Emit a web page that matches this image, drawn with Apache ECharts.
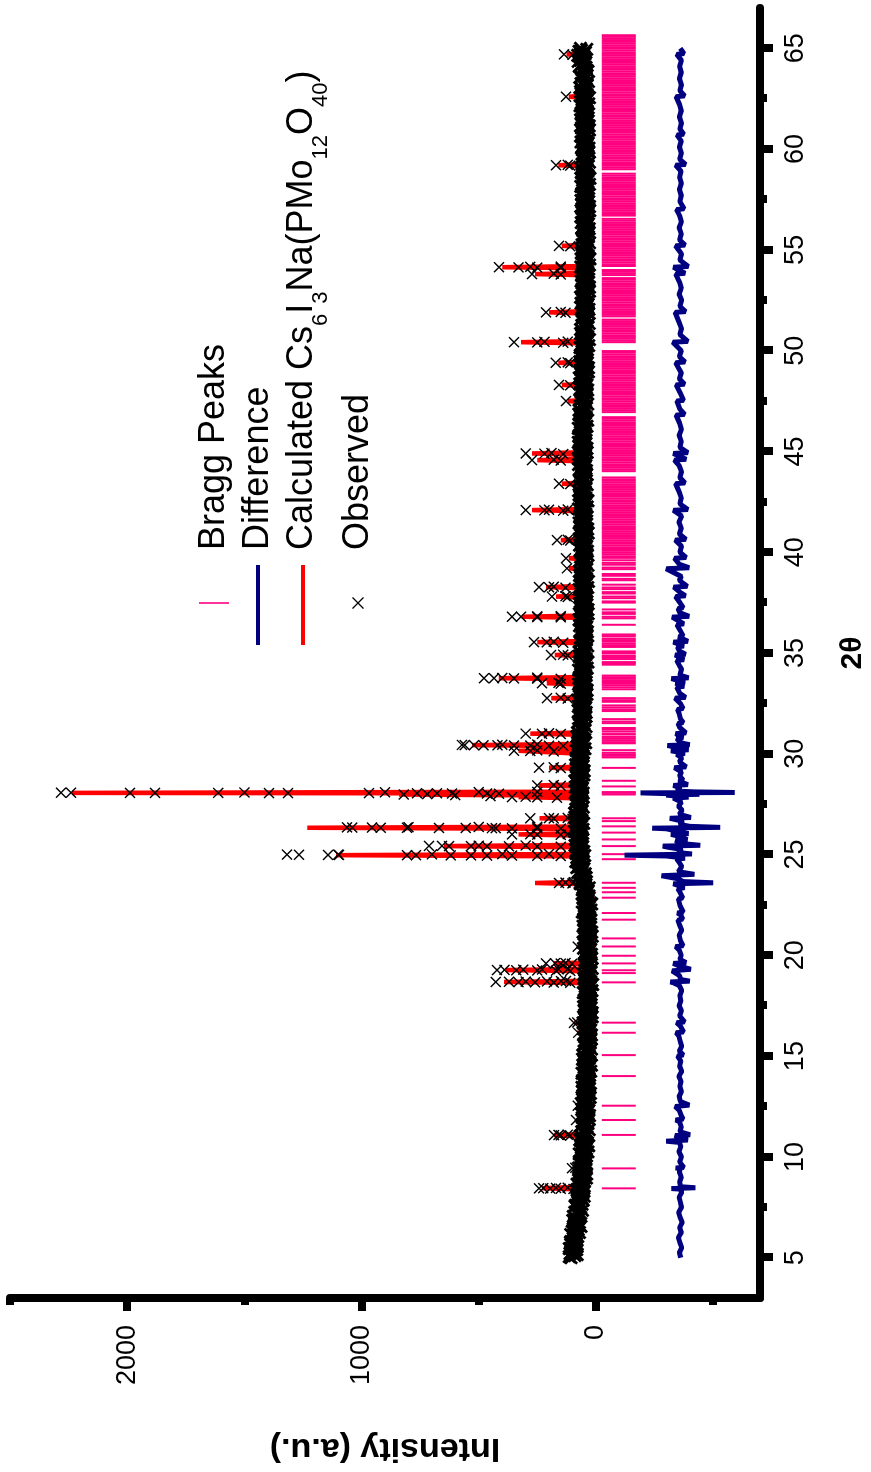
<!DOCTYPE html>
<html>
<head>
<meta charset="utf-8">
<title>Rietveld refinement</title>
<script src="https://cdn.jsdelivr.net/npm/echarts@6.0.0/dist/echarts.min.js"></script>
<style>
  html, body { margin: 0; padding: 0; background: #fff; overflow: hidden; }
  #page { position: relative; width: 871px; height: 1472px; }
  /* the figure is drawn landscape and turned a quarter turn to the left */
  #chart { position: absolute; left: 0; top: 0; width: 1472px; height: 871px;
           transform-origin: 0 0; transform: translate(0, 1472px) rotate(-90deg); }
</style>
</head>
<body>
<div id="page"><div id="chart"></div></div>
<script>
// observed scan, read in two interleaved passes:
// obsBase at 5.0, 5.1 ... 65.0 and obsMid at 5.05, 5.15 ... 64.95
const obsStart = 5.0;
const obsMidStart = 5.05;
const obsStep = 0.1;
const obsBase = [
  106, 90, 111, 93, 82, 104, 96, 82, 107, 85,
  83, 100, 86, 101, 76, 89, 68, 90, 78, 90,
  91, 73, 65, 83, 76, 65, 87, 66, 76, 57,
  63, 80, 56, 51, 73, 65, 55, 72, 49, 65,
  64, 48, 70, 52, 42, 64, 56, 43, 68, 47,
  45, 63, 49, 65, 40, 54, 35, 57, 46, 59,
  60, 43, 36, 54, 48, 38, 60, 40, 51, 32,
  42, 60, 36, 31, 54, 46, 37, 55, 31, 48,
  47, 32, 54, 37, 27, 50, 43, 30, 56, 35,
  32, 50, 37, 53, 29, 43, 24, 47, 36, 49,
  49, 32, 25, 44, 38, 28, 51, 31, 42, 24,
  32, 50, 27, 22, 45, 38, 29, 47, 24, 41,
  40, 25, 47, 30, 20, 43, 36, 23, 49, 28,
  27, 45, 32, 48, 24, 38, 19, 42, 31, 44,
  46, 29, 22, 41, 35, 25, 48, 28, 39, 21,
  32, 50, 27, 22, 45, 38, 29, 47, 24, 41,
  42, 27, 49, 32, 22, 45, 38, 25, 51, 30,
  31, 49, 36, 52, 28, 42, 23, 46, 35, 48,
  54, 38, 33, 54, 50, 42, 67, 49, 62, 46,
  59, 78, 56, 51, 75, 68, 60, 78, 56, 73,
  76, 61, 83, 66, 56, 79, 72, 59, 85, 64,
  65, 83, 70, 86, 62, 76, 57, 80, 69, 82,
  84, 67, 60, 79, 73, 63, 86, 66, 77, 59,
  67, 85, 62, 57, 80, 73, 64, 82, 59, 76,
  74, 59, 81, 64, 54, 77, 70, 57, 83, 62,
  57, 75, 62, 78, 54, 68, 49, 72, 61, 74,
  72, 55, 48, 67, 61, 51, 74, 54, 65, 47,
  54, 72, 49, 44, 67, 60, 51, 69, 46, 63,
  61, 46, 68, 51, 41, 64, 57, 44, 70, 49,
  47, 65, 52, 68, 44, 58, 39, 62, 51, 64,
  65, 48, 41, 60, 54, 44, 67, 47, 58, 40,
  49, 67, 44, 39, 62, 55, 46, 64, 41, 58,
  58, 43, 65, 48, 38, 61, 54, 41, 67, 46,
  45, 63, 50, 66, 42, 56, 37, 60, 49, 62,
  64, 47, 40, 59, 53, 43, 66, 46, 57, 39,
  49, 67, 44, 39, 62, 55, 46, 64, 41, 58,
  59, 44, 66, 49, 39, 62, 55, 42, 68, 47,
  47, 65, 52, 68, 44, 58, 39, 62, 51, 64,
  67, 50, 43, 62, 56, 46, 69, 49, 60, 42,
  53, 71, 48, 43, 66, 59, 50, 68, 45, 62,
  62, 47, 69, 52, 42, 65, 58, 45, 71, 50,
  48, 66, 53, 69, 45, 59, 40, 63, 52, 65,
  65, 48, 41, 60, 54, 44, 67, 47, 58, 40,
  48, 66, 43, 38, 61, 54, 45, 63, 40, 57,
  56, 41, 63, 46, 36, 59, 52, 39, 65, 44,
  41, 59, 46, 62, 38, 52, 33, 56, 45, 58,
  59, 42, 35, 54, 48, 38, 61, 41, 52, 34,
  43, 61, 38, 33, 56, 49, 40, 58, 35, 52,
  51, 36, 58, 41, 31, 54, 47, 34, 60, 39,
  38, 56, 43, 59, 35, 49, 30, 53, 42, 55,
  57, 40, 33, 52, 46, 36, 59, 39, 50, 32,
  42, 60, 37, 32, 55, 48, 39, 57, 34, 51,
  51, 36, 58, 41, 31, 54, 47, 34, 60, 39,
  38, 56, 43, 59, 35, 49, 30, 53, 42, 55,
  58, 41, 34, 53, 47, 37, 60, 40, 51, 33,
  43, 61, 38, 33, 56, 49, 40, 58, 35, 52,
  53, 38, 60, 43, 33, 56, 49, 36, 62, 41,
  41, 59, 46, 62, 38, 52, 33, 56, 45, 58,
  62, 45, 38, 57, 51, 41, 64, 44, 55, 37,
  53, 71, 48, 43, 66, 59, 50, 68, 45, 62,
  66
];
const obsMid = [
  114, 80, 105, 91, 114, 80, 96, 109, 81, 96,
  78, 108, 70, 91, 97, 64, 92, 78, 99, 72,
  97, 70, 90, 57, 72, 89, 59, 78, 54, 81,
  50, 75, 58, 81, 51, 66, 81, 51, 74, 40,
  72, 39, 64, 51, 74, 41, 57, 71, 43, 59,
  40, 71, 34, 56, 63, 31, 60, 47, 69, 43,
  66, 40, 61, 29, 45, 63, 34, 54, 31, 58,
  27, 53, 37, 61, 31, 47, 63, 34, 57, 24,
  56, 23, 49, 36, 60, 27, 44, 58, 31, 47,
  28, 59, 22, 44, 51, 19, 48, 35, 57, 31,
  56, 30, 51, 19, 35, 53, 24, 44, 21, 48,
  19, 45, 29, 53, 23, 39, 55, 26, 49, 16,
  49, 16, 42, 29, 53, 20, 37, 51, 24, 40,
  23, 54, 17, 39, 46, 14, 43, 30, 52, 26,
  53, 27, 48, 16, 32, 50, 21, 41, 18, 45,
  19, 45, 29, 53, 23, 39, 55, 26, 49, 16,
  51, 18, 44, 31, 55, 22, 39, 53, 26, 42,
  27, 58, 21, 43, 50, 18, 47, 34, 56, 30,
  59, 35, 58, 29, 47, 67, 40, 62, 41, 71,
  46, 73, 58, 82, 53, 69, 86, 57, 81, 48,
  85, 52, 78, 65, 89, 56, 73, 87, 60, 76,
  61, 92, 55, 77, 84, 52, 81, 68, 90, 64,
  91, 65, 86, 54, 70, 88, 59, 79, 56, 83,
  54, 80, 64, 88, 58, 74, 90, 61, 84, 51,
  83, 50, 76, 63, 87, 54, 71, 85, 58, 74,
  53, 84, 47, 69, 76, 44, 73, 60, 82, 56,
  79, 53, 74, 42, 58, 76, 47, 67, 44, 71,
  41, 67, 51, 75, 45, 61, 77, 48, 71, 38,
  70, 37, 63, 50, 74, 41, 58, 72, 45, 61,
  43, 74, 37, 59, 66, 34, 63, 50, 72, 46,
  72, 46, 67, 35, 51, 69, 40, 60, 37, 64,
  36, 62, 46, 70, 40, 56, 72, 43, 66, 33,
  67, 34, 60, 47, 71, 38, 55, 69, 42, 58,
  41, 72, 35, 57, 64, 32, 61, 48, 70, 44,
  71, 45, 66, 34, 50, 68, 39, 59, 36, 63,
  36, 62, 46, 70, 40, 56, 72, 43, 66, 33,
  68, 35, 61, 48, 72, 39, 56, 70, 43, 59,
  43, 74, 37, 59, 66, 34, 63, 50, 72, 46,
  74, 48, 69, 37, 53, 71, 42, 62, 39, 66,
  40, 66, 50, 74, 44, 60, 76, 47, 70, 37,
  71, 38, 64, 51, 75, 42, 59, 73, 46, 62,
  44, 75, 38, 60, 67, 35, 64, 51, 73, 47,
  72, 46, 67, 35, 51, 69, 40, 60, 37, 64,
  35, 61, 45, 69, 39, 55, 71, 42, 65, 32,
  65, 32, 58, 45, 69, 36, 53, 67, 40, 56,
  37, 68, 31, 53, 60, 28, 57, 44, 66, 40,
  66, 40, 61, 29, 45, 63, 34, 54, 31, 58,
  30, 56, 40, 64, 34, 50, 66, 37, 60, 27,
  60, 27, 53, 40, 64, 31, 48, 62, 35, 51,
  34, 65, 28, 50, 57, 25, 54, 41, 63, 37,
  64, 38, 59, 27, 43, 61, 32, 52, 29, 56,
  29, 55, 39, 63, 33, 49, 65, 36, 59, 26,
  60, 27, 53, 40, 64, 31, 48, 62, 35, 51,
  34, 65, 28, 50, 57, 25, 54, 41, 63, 37,
  65, 39, 60, 28, 44, 62, 33, 53, 30, 57,
  30, 56, 40, 64, 34, 50, 66, 37, 60, 27,
  62, 29, 55, 42, 66, 33, 50, 64, 37, 53,
  37, 68, 31, 53, 60, 28, 57, 44, 66, 40,
  69, 43, 64, 32, 48, 66, 37, 57, 34, 61,
  42, 68, 52, 76, 46, 62, 78, 49, 72, 39
];

// observed counts on the flanks and tops of the reflections [2theta, I]
const obsPeaks = [
  [8.41, 96], [8.42, 150], [8.43, 195], [8.44, 243], [8.45, 225], [8.46, 170], [8.47, 120],
  [9.44, 102], [9.46, 88],
  [11.06, 110], [11.07, 150], [11.08, 179], [11.09, 160], [11.1, 120],
  [11.83, 85], [12.54, 78], [16.16, 76], [16.65, 94], [16.67, 80],
  [18.64, 110], [18.65, 180], [18.66, 260], [18.67, 330], [18.68, 427], [18.69, 371], [18.7, 299], [18.71, 209], [18.72, 149], [18.73, 128],
  [19.23, 110], [19.24, 170], [19.25, 250], [19.26, 340], [19.27, 422], [19.28, 390], [19.29, 310], [19.3, 230], [19.31, 160], [19.32, 120],
  [19.58, 102], [19.59, 150], [19.6, 213], [19.61, 175], [19.62, 130],
  [20.43, 78],
  [23.57, 100], [23.59, 158], [23.61, 130], [23.63, 95],
  [24.93, 150], [24.94, 250], [24.95, 358], [24.95, 465], [24.96, 533], [24.96, 619], [24.97, 768], [24.97, 806], [24.98, 1096], [24.98, 1143], [24.99, 1267], [25.0, 1318], [25.0, 1100], [25.01, 700], [25.02, 400], [25.03, 200],
  [25.39, 150], [25.4, 250], [25.41, 371], [25.41, 465], [25.42, 533], [25.42, 627], [25.43, 657], [25.43, 712], [25.44, 500], [25.45, 300],
  [25.98, 150], [25.99, 250], [26.0, 358], [26.01, 280], [26.02, 120],
  [26.29, 150], [26.3, 250], [26.3, 358], [26.31, 427], [26.31, 444], [26.32, 555], [26.32, 670], [26.33, 806], [26.33, 918], [26.34, 955], [26.34, 1040], [26.35, 1062], [26.36, 800], [26.37, 500], [26.38, 250],
  [26.78, 100], [26.79, 180], [26.8, 280], [26.81, 200], [26.82, 120],
  [27.82, 166], [27.84, 250], [27.85, 358], [27.87, 300], [27.9, 450], [27.95, 600], [27.98, 820], [28.0, 720],
  [28.02, 414], [28.03, 465], [28.03, 614], [28.04, 678], [28.04, 763], [28.05, 968], [28.05, 1314], [28.05, 1395], [28.06, 1612], [28.06, 1881], [28.06, 1988], [28.07, 2240], [28.07, 2282], [28.08, 1500], [28.09, 900], [28.1, 500], [28.11, 250],
  [28.41, 150], [28.43, 250], [28.45, 180],
  [29.29, 150], [29.31, 243], [29.33, 180],
  [30.12, 180], [30.14, 280], [30.15, 350], [30.17, 250],
  [30.39, 140], [30.4, 200], [30.41, 280], [30.41, 350], [30.42, 420], [30.42, 480], [30.43, 520], [30.43, 560], [30.44, 572], [30.45, 400], [30.46, 250],
  [30.98, 150], [30.99, 230], [31.0, 300], [31.02, 200],
  [32.74, 120], [32.76, 209], [32.78, 150],
  [33.48, 150], [33.5, 230], [33.52, 160],
  [33.72, 150], [33.73, 250], [33.74, 350], [33.75, 435], [33.75, 478], [33.76, 400], [33.78, 250],
  [34.88, 120], [34.9, 192], [34.92, 140],
  [35.51, 140], [35.53, 210], [35.54, 264], [35.56, 180],
  [36.77, 150], [36.78, 250], [36.8, 320], [36.8, 358], [36.82, 250], [36.83, 150],
  [37.78, 120], [37.8, 188], [37.82, 130],
  [38.24, 130], [38.26, 200], [38.27, 243], [38.29, 180],
  [39.2, 124], [39.7, 128],
  [40.58, 110], [40.6, 166], [40.62, 120],
  [42.06, 140], [42.08, 220], [42.09, 299], [42.11, 200], [42.12, 120],
  [43.38, 110], [43.4, 158],
  [44.55, 150], [44.57, 273], [44.59, 180],
  [44.87, 140], [44.89, 220], [44.9, 299], [44.92, 190],
  [47.5, 128], [48.28, 110], [48.3, 158],
  [49.38, 110], [49.4, 171], [49.42, 120],
  [50.39, 140], [50.41, 250], [50.42, 350], [50.44, 220], [50.45, 120],
  [51.88, 130], [51.9, 213], [51.92, 150],
  [53.78, 150], [53.8, 273], [53.82, 180],
  [54.11, 150], [54.12, 250], [54.13, 330], [54.14, 414], [54.16, 280], [54.17, 150],
  [55.18, 110], [55.2, 158],
  [59.18, 110], [59.2, 170], [59.22, 120],
  [62.6, 128], [64.68, 100], [64.7, 136]
];

// calculated profile [2theta, I]
const calculated = [
  [5, 100], [6, 90], [7, 79], [8, 66], [8.38, 62], [8.45, 230], [8.52, 61], [9, 58], [9.4, 56], [9.45, 95], [9.5, 55],
  [10, 52], [11, 48], [11.02, 48], [11.08, 180], [11.14, 47], [11.78, 45], [11.83, 80], [11.88, 45],
  [12.49, 44], [12.54, 80], [12.59, 44], [13, 41], [14, 39], [15, 37], [16.1, 35], [16.16, 80], [16.22, 35],
  [16.6, 35], [16.66, 92], [16.72, 35], [17, 34], [18, 34], [18.62, 34], [18.68, 392], [18.74, 34],
  [19.21, 34], [19.27, 384], [19.33, 34], [19.55, 34], [19.6, 180], [19.65, 34], [20, 35],
  [20.38, 35], [20.43, 81], [20.48, 35], [21, 36], [22, 38], [23, 42], [23.53, 55], [23.59, 260], [23.65, 58],
  [24, 62], [24.91, 70], [24.97, 1109], [25.03, 70], [25.36, 70], [25.42, 648], [25.48, 70],
  [25.94, 72], [26.0, 330], [26.06, 72], [26.27, 72], [26.33, 1232], [26.39, 72],
  [26.74, 72], [26.8, 240], [26.86, 72], [27, 72], [27.79, 71], [27.85, 330], [27.92, 71],
  [27.98, 840], [28.03, 71], [28.06, 2235], [28.12, 71], [28.37, 70], [28.43, 243], [28.49, 70],
  [29, 68], [29.25, 67], [29.31, 200], [29.37, 67], [30, 64], [30.09, 64], [30.15, 330], [30.21, 64],
  [30.37, 63], [30.43, 529], [30.49, 63], [30.94, 60], [31.0, 280], [31.06, 60], [32, 57],
  [32.7, 56], [32.76, 190], [32.82, 56], [33, 55], [33.44, 55], [33.5, 210], [33.56, 55],
  [33.69, 55], [33.75, 414], [33.81, 55], [34.84, 53], [34.9, 175], [34.96, 53],
  [35.48, 53], [35.54, 250], [35.6, 53], [36, 52], [36.74, 52], [36.8, 316], [36.86, 52],
  [37.74, 52], [37.8, 170], [37.86, 52], [38.21, 52], [38.27, 213], [38.33, 52],
  [39.14, 52], [39.2, 115], [39.26, 52], [39.64, 52], [39.7, 115], [39.76, 52], [40, 52],
  [40.54, 52], [40.6, 150], [40.66, 52], [41, 53], [42.03, 54], [42.09, 273], [42.15, 54],
  [43, 55], [43.34, 55], [43.4, 145], [43.46, 55], [44, 56], [44.51, 56], [44.57, 250], [44.63, 56],
  [44.84, 56], [44.9, 273], [44.96, 56], [46, 55], [47, 53], [47.44, 53], [47.5, 120], [47.56, 53],
  [48, 51], [48.24, 51], [48.3, 145], [48.36, 51], [49, 50], [49.34, 50], [49.4, 160], [49.46, 50],
  [50, 48], [50.36, 48], [50.42, 320], [50.48, 48], [51, 47], [51.84, 46], [51.9, 200], [51.96, 46],
  [53, 45], [53.74, 45], [53.8, 260], [53.86, 45], [54.08, 45], [54.14, 400], [54.2, 45],
  [55, 45], [55.14, 45], [55.2, 145], [55.26, 45], [57, 45], [59, 46], [59.14, 46], [59.2, 160], [59.26, 46],
  [60, 46], [62, 48], [62.54, 48], [62.6, 115], [62.66, 48], [64, 56], [64.64, 58], [64.7, 125], [64.76, 58], [65, 62]
];

// difference curve as plotted (shifted below zero) [2theta, I]
const difference = [
  [5, -362], [5.25, -356], [5.5, -366], [5.75, -358], [6, -352], [6.25, -364], [6.5, -357], [6.75, -368],
  [7, -359], [7.25, -353], [7.5, -365], [7.75, -360], [8, -355], [8.25, -366], [8.4, -360], [8.43, -322],
  [8.47, -424], [8.52, -362], [8.75, -357], [9, -364], [9.25, -356], [9.42, -360], [9.45, -340], [9.48, -375],
  [9.75, -357], [10, -365], [10.25, -354], [10.5, -362], [10.72, -356], [10.78, -300], [10.84, -392],
  [10.95, -352], [11.06, -338], [11.1, -402], [11.25, -358], [11.5, -364], [11.75, -356], [11.83, -340],
  [11.88, -372], [12.1, -362], [12.3, -356], [12.5, -338], [12.57, -398], [12.75, -360], [13, -355],
  [13.25, -365], [13.5, -358], [13.75, -363], [14, -354], [14.25, -366], [14.5, -357], [14.75, -362],
  [15, -348], [15.06, -372], [15.25, -356], [15.5, -366], [15.75, -359], [16, -354], [16.16, -342],
  [16.2, -374], [16.5, -360], [16.66, -345], [16.7, -378], [17, -357], [17.25, -365], [17.5, -355],
  [17.75, -362], [18, -358], [18.25, -366], [18.5, -356], [18.64, -330], [18.68, -318], [18.72, -400],
  [18.8, -362], [19, -356], [19.23, -325], [19.27, -318], [19.31, -405], [19.45, -360], [19.6, -330],
  [19.64, -385], [19.8, -358], [20, -364], [20.25, -356], [20.43, -340], [20.48, -372], [20.75, -360],
  [21, -355], [21.25, -366], [21.5, -357], [21.75, -350], [21.8, -370], [22, -362], [22.1, -348],
  [22.15, -372], [22.5, -358], [22.8, -352], [22.85, -370], [23.1, -360], [23.3, -350], [23.36, -378],
  [23.55, -330], [23.6, -500], [23.66, -372], [23.8, -350], [23.95, -280], [24.02, -420], [24.15, -352],
  [24.4, -366], [24.6, -356], [24.77, -345], [24.82, -380], [24.93, -300], [24.97, -122], [25.0, -290],
  [25.03, -410], [25.1, -350], [25.25, -368], [25.38, -300], [25.42, -285], [25.46, -445], [25.55, -362],
  [25.7, -340], [25.74, -390], [25.9, -358], [26.0, -320], [26.04, -395], [26.15, -350], [26.28, -300],
  [26.31, -240], [26.35, -530], [26.4, -400], [26.5, -355], [26.65, -372], [26.8, -315], [26.84, -405],
  [27.0, -355], [27.2, -368], [27.4, -352], [27.6, -365], [27.8, -330], [27.85, -395], [27.95, -300],
  [27.99, -442], [28.03, -280], [28.06, -190], [28.08, -592], [28.11, -420], [28.15, -345], [28.3, -362],
  [28.43, -330], [28.47, -392], [28.65, -352], [28.7, -372], [28.9, -357], [29.1, -365], [29.31, -335],
  [29.35, -385], [29.6, -356], [29.8, -366], [29.97, -345], [30.02, -380], [30.15, -320], [30.2, -395],
  [30.3, -355], [30.41, -305], [30.45, -400], [30.55, -360], [30.75, -345], [30.8, -372], [31.0, -340],
  [31.04, -384], [31.3, -358], [31.5, -350], [31.55, -372], [31.75, -360], [32, -355], [32.2, -348],
  [32.25, -372], [32.5, -360], [32.76, -338], [32.8, -382], [33.0, -358], [33.3, -345], [33.35, -376],
  [33.5, -340], [33.55, -380], [33.73, -322], [33.77, -395], [33.9, -358], [34.2, -365], [34.4, -355],
  [34.63, -345], [34.67, -376], [34.9, -338], [34.94, -382], [35.1, -356], [35.3, -348], [35.35, -375],
  [35.54, -330], [35.58, -392], [35.8, -352], [35.85, -372], [36.1, -360], [36.4, -345], [36.45, -375],
  [36.78, -325], [36.82, -398], [37.0, -358], [37.2, -350], [37.25, -372], [37.5, -358], [37.8, -340],
  [37.84, -382], [38.0, -360], [38.27, -332], [38.31, -390], [38.6, -356], [38.8, -364], [39.18, -300],
  [39.23, -398], [39.4, -356], [39.7, -335], [39.74, -385], [40.0, -358], [40.3, -365], [40.6, -338],
  [40.64, -384], [40.9, -356], [41.2, -364], [41.5, -354], [41.8, -366], [42.08, -330], [42.12, -392],
  [42.4, -358], [42.7, -364], [43.0, -355], [43.4, -340], [43.44, -380], [43.7, -358], [44.0, -365],
  [44.3, -355], [44.57, -335], [44.61, -385], [44.9, -330], [44.94, -392], [45.2, -358], [45.5, -364],
  [45.8, -355], [46.1, -365], [46.4, -357], [46.8, -342], [46.84, -378], [47.1, -358], [47.5, -345],
  [47.54, -374], [47.9, -360], [48.3, -342], [48.34, -378], [48.6, -356], [48.9, -364], [49.4, -340],
  [49.44, -380], [49.7, -356], [50.0, -364], [50.42, -328], [50.46, -392], [50.8, -358], [51.1, -365],
  [51.4, -355], [51.9, -338], [51.94, -382], [52.2, -358], [52.5, -366], [52.8, -355], [53.1, -364],
  [53.4, -357], [53.8, -340], [53.84, -380], [54.14, -330], [54.18, -394], [54.5, -358], [54.8, -365],
  [55.2, -340], [55.24, -380], [55.5, -357], [55.8, -364], [56.1, -355], [56.4, -365], [56.7, -357],
  [57.0, -344], [57.04, -376], [57.4, -358], [57.7, -364], [58.0, -356], [58.3, -365], [58.6, -357],
  [58.9, -363], [59.2, -340], [59.24, -382], [59.5, -357], [59.8, -365], [60.1, -356], [60.4, -364],
  [60.7, -346], [60.74, -374], [61.0, -358], [61.3, -365], [61.6, -356], [61.9, -364], [62.2, -357],
  [62.6, -342], [62.64, -378], [62.9, -358], [63.2, -365], [63.5, -356], [63.8, -364], [64.1, -357],
  [64.4, -365], [64.7, -345], [64.74, -376], [65.0, -360]
];

// Bragg reflection positions (2theta)
const braggPeaks = [
  8.44, 9.43, 11.09, 11.83, 12.54, 14.01, 15.05, 16.16, 16.66, 18.66, 19.12, 19.26, 19.6, 19.98, 20.44,
  20.84, 21.77, 22.1, 22.86, 23.13, 23.35, 23.6, 24.77, 25.02, 25.42, 25.75, 26.09, 26.4, 26.66, 26.8,
  27.98, 28.06, 28.1, 28.38, 28.66, 29.3, 29.82, 29.9, 29.97, 30.05, 30.18, 30.52, 30.58, 30.68, 30.78,
  30.86, 30.98, 31.1, 31.2, 31.28, 31.52, 31.6, 31.72, 32.12, 32.2, 32.3, 32.4, 32.58, 32.66, 32.76,
  33.2, 33.3, 33.4, 33.48, 33.56, 33.64, 33.72, 33.8, 33.88, 34.42, 34.5, 34.55, 34.7, 34.8, 34.88,
  35.0, 35.08, 35.3, 35.38, 35.46, 35.56, 35.64, 35.72, 35.84, 35.92, 36.4, 36.72, 36.8, 36.94, 37.02,
  37.16, 37.5, 37.56, 37.72, 37.8, 37.95, 38.02, 38.17, 38.25, 38.39, 38.61, 38.68, 38.83, 38.92, 39.16,
  39.24, 39.38, 39.47, 39.6,
  39.72, 39.8, 39.9, 39.98, 40.07, 40.16, 40.24, 40.33, 40.42, 40.5, 40.59, 40.68, 40.76, 40.85, 40.94,
  41.02, 41.11, 41.2, 41.28, 41.37, 41.46, 41.54, 41.63, 41.72, 41.8, 41.89, 41.98, 42.06, 42.15, 42.24,
  42.32, 42.41, 42.5, 42.58, 42.67, 42.76, 42.84, 42.93, 43.02, 43.1, 43.19, 43.28, 43.36, 43.45, 43.54,
  43.62, 43.71, 44.02, 44.1, 44.19, 44.28, 44.36, 44.45, 44.54, 44.62, 44.71, 44.8, 44.88, 44.97, 45.06,
  45.14, 45.23, 45.32, 45.4, 45.49, 45.58, 45.66, 45.75, 45.84, 45.92, 46.01, 46.1, 46.18, 46.27, 46.36,
  46.44, 46.53, 46.62, 46.7, 46.95, 47.04, 47.12, 47.21, 47.3, 47.38, 47.47, 47.56, 47.64, 47.73, 47.82,
  47.9, 47.99, 48.08, 48.16, 48.25, 48.34, 48.42, 48.51, 48.6, 48.68, 48.77, 48.86, 48.94, 49.03, 49.12,
  49.2, 49.29, 49.38, 49.46, 49.55, 49.64, 49.72, 49.81, 49.9, 49.98, 50.42, 50.5, 50.59, 50.68, 50.76,
  50.85, 50.94, 51.02, 51.11, 51.2, 51.28, 51.37, 51.46, 51.54, 51.7, 51.78, 51.87, 51.96, 52.04, 52.13,
  52.22, 52.3, 52.39, 52.48, 52.56, 52.65, 52.74, 52.82, 52.91, 53.0, 53.08, 53.17, 53.26, 53.34, 53.43,
  53.52, 53.6, 53.75, 53.84, 53.92, 54.0, 54.2, 54.28, 54.37, 54.46, 54.54, 54.63, 54.72, 54.8, 54.89,
  54.98, 55.06, 55.15, 55.24, 55.32, 55.41, 55.5, 55.58, 55.67, 55.76, 55.84, 55.93, 56.02, 56.1, 56.19,
  56.28, 56.36, 56.45, 56.54, 56.7, 56.78, 56.87, 56.96, 57.04, 57.13, 57.22, 57.3, 57.39, 57.48, 57.56,
  57.65, 57.74, 57.82, 57.91, 58.0, 58.08, 58.17, 58.26, 58.34, 58.43, 58.52, 58.6, 58.69, 58.78, 59.0,
  59.08, 59.17, 59.26, 59.34, 59.43, 59.52, 59.6, 59.69, 59.78, 59.86, 59.95, 60.04, 60.12, 60.21, 60.3,
  60.38, 60.47, 60.56, 60.64, 60.73, 60.82, 60.9, 60.99, 61.08, 61.16, 61.25, 61.34, 61.42, 61.51, 61.6,
  61.68, 61.77, 61.86, 61.94, 62.03, 62.12, 62.2, 62.29, 62.38, 62.46, 62.55, 62.64, 62.72, 62.81, 62.9,
  62.98, 63.07, 63.16, 63.24, 63.33, 63.42, 63.5, 63.59, 63.68, 63.76, 63.85, 63.94, 64.02, 64.11, 64.2,
  64.28, 64.37, 64.46, 64.54, 64.63, 64.72, 64.8, 64.89, 64.98, 65.06, 65.15, 65.24, 65.32, 65.41, 65.5,
  65.58, 65.65
];
const braggTop = -25;      // tick marks span this intensity band
const braggBottom = -170;

// axis ticks and labels
const thetaMajor = [5, 10, 15, 20, 25, 30, 35, 40, 45, 50, 55, 60, 65];
const thetaMinor = [7.5, 12.5, 17.5, 22.5, 27.5, 32.5, 37.5, 42.5, 47.5, 52.5, 57.5, 62.5];
const intMajor = [0, 1000, 2000];
const intMinor = [-500, 500, 1500, 2500];

const calcName = 'Calculated Cs6I3Na(PMo12O40)';
const FONT = 'Liberation Sans';

const observedScan = obsBase.map((v, i) => [+(obsStart + i * obsStep).toFixed(2), v])
  .concat(obsMid.map((v, i) => [+(obsMidStart + i * obsStep).toFixed(2), v]));

const chart = echarts.init(document.getElementById('chart'));

// x-shaped marks: a bolder one for the dense background, a finer one on the peaks
const crossBold = 'path://M0,1.4L1.4,0L10,8.6L8.6,10Z M8.6,0L10,1.4L1.4,10L0,8.6Z';
const crossFine = 'path://M0,0.9L0.9,0L10,9.1L9.1,10Z M9.1,0L10,0.9L0.9,10L0,9.1Z';

function majorAxis(base) {
  return Object.assign({
    type: 'value',
    axisLine: { show: true, onZero: false, lineStyle: { color: '#000', width: 8 } },
    splitLine: { show: false }
  }, base);
}
function minorAxis(base) {
  return Object.assign({
    type: 'value',
    axisLine: { show: false, onZero: false },
    splitLine: { show: false },
    axisLabel: { show: false }
  }, base);
}
const plainNumber = v => String(v);

const option = {
  animation: false,
  textStyle: { fontFamily: FONT },
  grid: { left: 174, right: 8, top: 10, bottom: 111, containLabel: false, outerBoundsMode: 'none' },
  legend: {
    orient: 'vertical',
    left: 827,
    top: 196,
    padding: 0,
    itemWidth: 90,
    itemHeight: 36,
    itemGap: 8,
    selectedMode: false,
    itemStyle: { borderWidth: 0 },
    textStyle: {
      fontSize: 36, color: '#000', fontFamily: FONT,
      rich: {
        m: { fontSize: 36, color: '#000', fontFamily: FONT, verticalAlign: 'top' },
        s: { fontSize: 22, color: '#000', fontFamily: FONT, verticalAlign: 'top', padding: [26, 0, 0, 0] }
      }
    },
    formatter: function (name) {
      if (name === calcName) {
        return '{m|Calculated Cs}{s|6}{m|I}{s|3}{m|Na(PMo}{s|12}{m|O}{s|40}{m|)}';
      }
      return name;
    },
    data: [
      { name: 'Bragg Peaks', icon: 'path://M0,0M90,36M41.2,3L42.8,3L42.8,33L41.2,33Z', itemStyle: { color: '#FF0080', borderWidth: 0 } },
      { name: 'Difference', icon: 'path://M0,0M90,36M0,16L80,16L80,20L0,20Z', itemStyle: { color: '#000080', borderWidth: 0 } },
      { name: calcName, icon: 'path://M0,0M90,36M0,11L80,11L80,15L0,15Z', itemStyle: { color: '#FF0000', borderWidth: 0 } },
      { name: 'Observed', icon: 'path://M0,0M90,36M36,12.9L36.9,12L48,23.1L47.1,24Z M47.1,12L48,12.9L36.9,24L36,23.1Z', itemStyle: { color: '#000', borderWidth: 0 } }
    ]
  },
  xAxis: [
    majorAxis({
      min: 3, max: 67, position: 'bottom',
      name: '2θ', nameLocation: 'middle', nameGap: 78,
      nameTextStyle: { fontSize: 30, fontWeight: 'bold', color: '#000', fontFamily: FONT },
      axisTick: { show: true, length: 13, customValues: thetaMajor, lineStyle: { color: '#000', width: 8 } },
      axisLabel: { color: '#000', fontSize: 27, fontFamily: FONT, margin: 22, customValues: thetaMajor, formatter: plainNumber }
    }),
    minorAxis({
      min: 3, max: 67, position: 'bottom',
      axisTick: { show: true, length: 7, customValues: thetaMinor, lineStyle: { color: '#000', width: 8 } }
    })
  ],
  yAxis: [
    majorAxis({
      min: -700, max: 2500, position: 'left',
      name: 'Intensity (a.u.)', nameLocation: 'middle', nameGap: 133,
      nameTextStyle: { fontSize: 34, fontWeight: 'bold', color: '#000', fontFamily: FONT },
      axisTick: { show: true, length: 13, customValues: intMajor, lineStyle: { color: '#000', width: 8 } },
      axisLabel: { color: '#000', fontSize: 27, fontFamily: FONT, margin: 27, customValues: intMajor, formatter: plainNumber }
    }),
    minorAxis({
      min: -700, max: 2500, position: 'left',
      axisTick: { show: true, length: 7, customValues: intMinor, lineStyle: { color: '#000', width: 8 } }
    })
  ],
  series: [
    {
      name: 'Bragg Peaks',
      type: 'custom',
      silent: true,
      z: 2,
      itemStyle: { color: '#FF0080' },
      data: braggPeaks.map(p => [p, braggTop]),
      renderItem: function (params, api) {
        const a = api.coord([api.value(0), braggTop]);
        const b = api.coord([api.value(0), braggBottom]);
        return {
          type: 'line',
          shape: { x1: a[0], y1: a[1], x2: b[0], y2: b[1] },
          style: { stroke: '#FF0080', lineWidth: 2 }
        };
      }
    },
    {
      name: 'Difference',
      type: 'line',
      silent: true,
      z: 3,
      showSymbol: false,
      symbol: 'none',
      color: '#000080',
      lineStyle: { color: '#000080', width: 5 },
      data: difference
    },
    {
      name: calcName,
      type: 'line',
      silent: true,
      z: 3,
      showSymbol: false,
      symbol: 'none',
      color: '#FF0000',
      lineStyle: { color: '#FF0000', width: 4.5 },
      data: calculated
    },
    {
      name: 'Observed',
      type: 'scatter',
      silent: true,
      z: 4,
      large: false,
      symbol: crossBold,
      symbolSize: 14,
      itemStyle: { color: '#000', opacity: 1 },
      data: observedScan
    },
    {
      name: 'Observed',
      type: 'scatter',
      silent: true,
      z: 4,
      large: false,
      symbol: crossFine,
      symbolSize: 11,
      itemStyle: { color: '#000', opacity: 1 },
      data: obsPeaks
    }
  ]
};

chart.setOption(option);
</script>
</body>
</html>
